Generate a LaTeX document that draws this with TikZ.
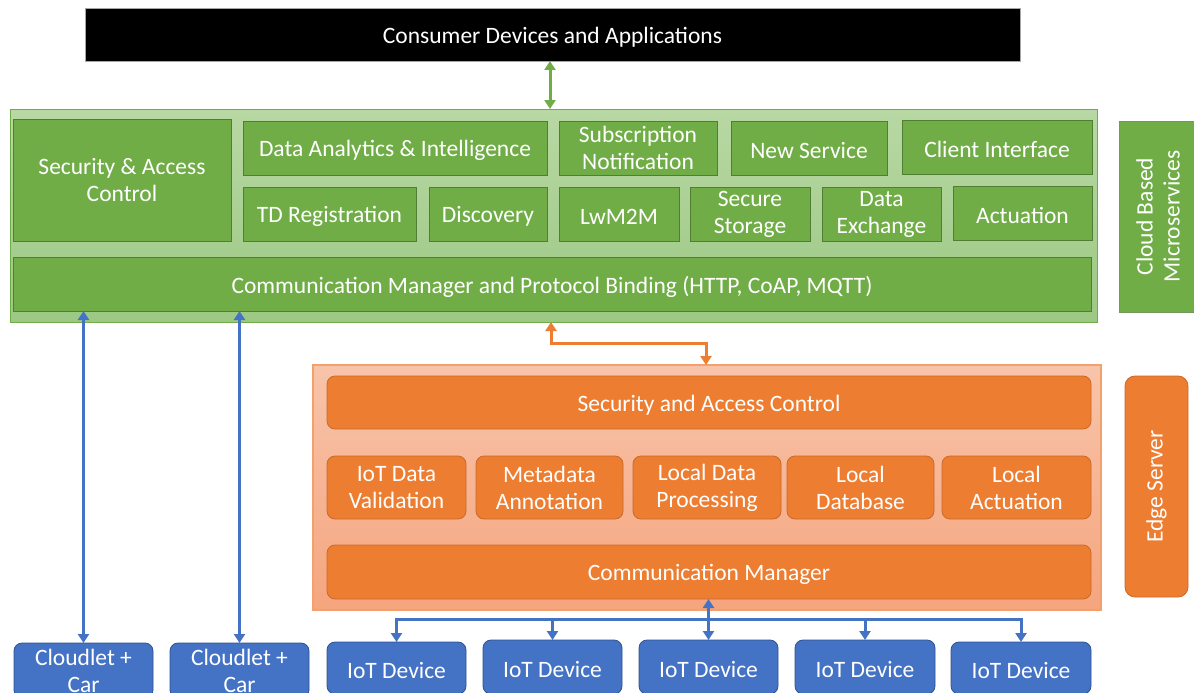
\documentclass[tikz,border=0pt]{standalone}
\usepackage{fontspec}
\setmainfont{Carlito}
\usetikzlibrary{arrows.meta}
\definecolor{gfill}{HTML}{70AD47}
\definecolor{gline}{HTML}{507E32}
\definecolor{gtop}{HTML}{B8D8A4}
\definecolor{gbot}{HTML}{9CC884}
\definecolor{ofill}{HTML}{ED7D31}
\definecolor{oline}{HTML}{C9692A}
\definecolor{otop}{HTML}{F8C4AA}
\definecolor{obot}{HTML}{F5A57E}
\definecolor{oborder}{HTML}{F4A06C}
\definecolor{bfill}{HTML}{4472C4}
\definecolor{bline}{HTML}{2F528F}
% single-line box
\newcommand\bx[7]{\node[#6,anchor=north west,minimum width={(#4)-(#2)},minimum height={(#5)-(#3)},label={[lbl]center:{#7}}] (#1) at (#2,#3) {};}
% multi-line box
\newcommand\bxm[7]{\node[#6,anchor=north west,minimum width={(#4)-(#2)},minimum height={(#5)-(#3)},label={[lblm]center:{#7}}] (#1) at (#2,#3) {};}
\tikzset{
  every node/.style={font=\fontsize{23.5}{27}\selectfont, text=white, align=center, inner sep=1pt, outer sep=0pt},
  lbl/.style={yshift=-2.5pt},
  lblm/.style={yshift=0pt},
  gouter/.style={draw=gfill, line width=1pt, top color=gtop, bottom color=gbot},
  gbox/.style={draw=gline, line width=0.8pt, fill=gfill},
  oouterbox/.style={draw=oborder, line width=1.2pt, top color=otop, bottom color=obot},
  obox/.style={draw=oline, line width=0.8pt, fill=ofill, rounded corners=8pt},
  dbox/.style={draw=bline, line width=0.8pt, fill=bfill, rounded corners=8pt},
  blackbox/.style={draw=gray!70, line width=0.8pt, fill=black},
  >={Triangle[width=11pt,length=9pt]},
  garr/.style={draw=gfill, line width=3pt},
  oarr/.style={draw=ofill, line width=3pt},
  barr/.style={draw=bfill, line width=3pt},
}
\begin{document}
\begin{tikzpicture}[x=1pt,y=-1pt]
\clip (0,0) rectangle (1194,693);
% top
\bx{consumer}{85}{8}{1020}{61}{blackbox}{Consumer Devices and Applications}
% cloud layer
\bx{cloud}{10}{109}{1097}{322}{gouter}{}
\bxm{gsec}{13}{119}{231}{241}{gbox}{Security \& Access\\Control}
\bx{analytics}{243}{121}{547}{175}{gbox}{Data Analytics \& Intelligence}
\bxm{subs}{559}{121}{717}{175}{gbox}{Subscription\\Notification}
\bx{newsvc}{731}{121}{887}{175}{gbox}{New Service}
\bx{client}{902}{120}{1092}{174}{gbox}{Client Interface}
\bx{tdreg}{243}{187}{416}{241}{gbox}{TD Registration}
\bx{disc}{429}{187}{547}{241}{gbox}{Discovery}
\bx{lwm}{559}{187}{679}{241}{gbox}{LwM2M}
\bxm{secstore}{690}{187}{810}{241}{gbox}{Secure\\Storage}
\bxm{dataex}{822}{187}{941}{241}{gbox}{Data\\Exchange}
\bx{actu}{953}{186}{1092}{240}{gbox}{Actuation}
\bx{gcomm}{13}{257}{1091}{311}{gbox}{Communication Manager and Protocol Binding (HTTP, CoAP, MQTT)}
\node[gbox, draw=gline!80, rotate=90, minimum width=191, minimum height=77] (cloudlbl) at (1158,216.5) {Cloud Based\\Microservices};
% edge layer
\bx{edge}{313}{365}{1101}{610}{oouterbox}{}
\bx{osec}{327}{376}{1091}{429}{obox}{Security and Access Control}
\bxm{valid}{327}{456}{466}{519}{obox}{IoT Data\\Validation}
\bxm{meta}{476}{456}{623}{519}{obox}{Metadata\\Annotation}
\bxm{ldp}{633}{456}{781}{519}{obox}{Local Data\\Processing}
\bxm{ldb}{787}{456}{934}{519}{obox}{Local\\Database}
\bxm{lact}{942}{456}{1091}{519}{obox}{Local\\Actuation}
\bx{ocomm}{327}{545}{1091}{599}{obox}{Communication Manager}
\node[obox, rounded corners=10pt, rotate=90, minimum width=221, minimum height=63] (edgelbl) at (1156.5,486.5) {Edge Server};
% devices
\bxm{cl1}{14}{643}{153}{698}{dbox}{Cloudlet +\\Car}
\bxm{cl2}{170}{643}{309}{698}{dbox}{Cloudlet +\\Car}
\bx{dev1}{327}{642}{466}{694}{dbox}{IoT Device}
\bx{dev2}{483}{640}{622}{694}{dbox}{IoT Device}
\bx{dev3}{639}{640}{778}{694}{dbox}{IoT Device}
\bx{dev4}{795}{640}{935}{694}{dbox}{IoT Device}
\bx{dev5}{951}{642}{1091}{694}{dbox}{IoT Device}
% connectors
\draw[garr,<->] (consumer.south -| 550,0) -- (cloud.north -| 550,0);
\coordinate (oa) at (551,0);
\coordinate (ob) at (706,0);
\coordinate (oturn) at (0,343);
\draw[oarr,<->] (cloud.south -| oa) -- (oa |- oturn) -| (edge.north -| ob);
\draw[barr,<->] (gcomm.south -| cl1.north) -- (cl1.north);
\draw[barr,<->] (gcomm.south -| cl2.north) -- (cl2.north);
\coordinate (bus) at (0,619);
\draw[barr,<->] (ocomm.south -| dev3.north) -- (dev3.north);
\draw[barr,->] (dev3.north |- bus) -| (dev1.north);
\draw[barr,->] (dev3.north |- bus) -| (dev5.north);
\draw[barr,->] (dev2.north |- bus) -- (dev2.north);
\draw[barr,->] (dev4.north |- bus) -- (dev4.north);
\end{tikzpicture}
\end{document}
